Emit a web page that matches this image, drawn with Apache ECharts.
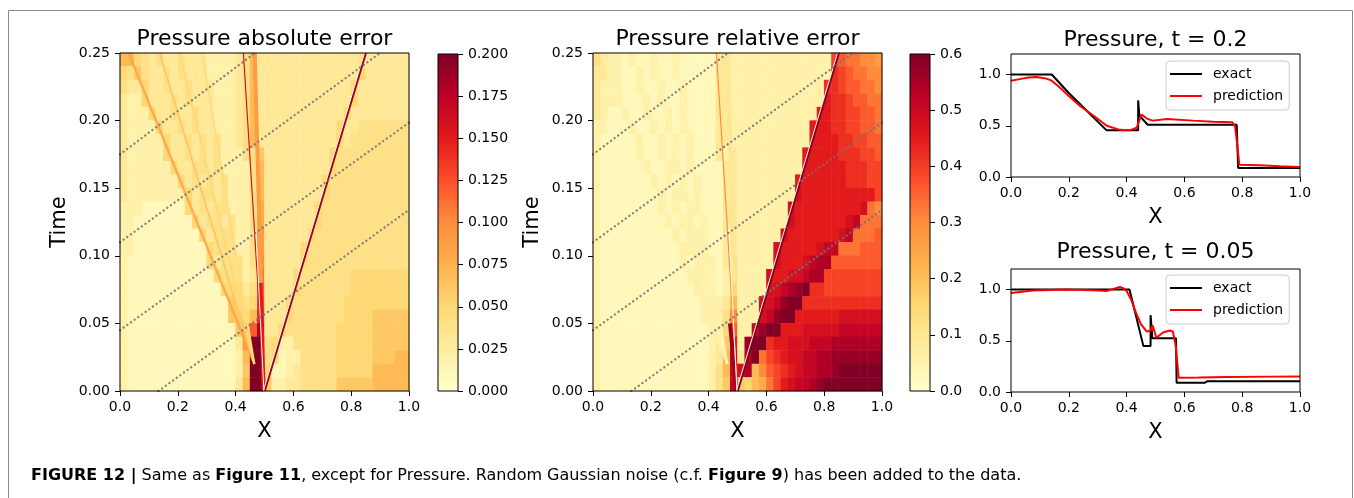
<!DOCTYPE html>
<html><head><meta charset="utf-8">
<script src="https://cdn.jsdelivr.net/npm/echarts@6/dist/echarts.min.js"></script>
<style>html,body{margin:0;padding:0;background:#fff}#c{width:1354px;height:498px}</style>
</head><body><div id="c"></div>
<script>
// ---------------- DATA ----------------
const absMax = 0.2, relMax = 0.6;
const LEVELS = '0123456789abcdefghijk'; // level index 0..20 -> value = idx/20*vmax

// Absolute error field, rows top (t=0.25) to bottom (t=0), 40 columns over X in [0,1]
const absRows = [
"7754343343 3322223473 3333333333 3334333333",
"5464334343 3322223473 3333333333 3335333333",
"4335334334 3332223473 3333333333 3353333333",
"3225333434 3332223473 3333333333 3353333333",
"3222533433 4332223473 3333333333 3533333333",
"3222253343 4332223473 3333333333 5334444444",
"3222225334 3434223473 3333333333 5344444444",
"3222225334 3434222446 3333333335 4444444444",
"3222222533 4434222247 3333333335 4444444444",
"3222222253 4343422247 3333333354 4444444444",
"3222222225 3443422247 3333333354 4444444444",
"2221111115 3434422248 3333333544 4444444444",
"2211111111 5344342248 3333333544 4444444444",
"2211111111 1534442249 3333335444 4444444444",
"2211111111 1154442249 3333354444 4444444444",
"2111111111 115344424a 3333354444 4444444444",
"2111111111 111544423b 3333544444 4455555555",
"2111111111 111155534c 3333544444 4455555555",
"2111111111 111116545d 3335444444 4555555555",
"2111111111 111116657e 3335444444 4555566666",
"2111111111 11111168ci 3354444444 5555566666",
"2111111111 11111139kk 4522444444 5555566666",
"2111111111 11111127kk 4512244444 5555566677",
"2111111111 11111126kk 5112344444 5555577777",
"2111111111 11111137kk 6223344444 6666677777"
];
// Relative error field
const relRows = [
"4322121121 1211111332 2222222222 222dcbbaa9",
"3322112121 1211111332 2222222222 222edcbbaa",
"3222112112 1121111332 2222222222 22eedccbba",
"3222111212 1121111332 2222222222 22feedccbb",
"3211211211 2121111332 2222222222 2ffeeddccb",
"2211121121 2121111332 2222222222 fffeeddccb",
"2111112112 1212111332 2222222222 ffffeeddcc",
"2111112112 1212111323 222222222f ffffeeeddc",
"2111111211 2212111133 222222222f fffffeeedd",
"2111111121 2121211133 22222222ff fffffeeedd",
"2111111112 1221211133 22222222gf fffffffffd",
"2111111112 1212211133 2222222gff fffffffgba",
"2111111111 2122121133 2222222gff fffffghbbb",
"2111111111 1212221133 222222gfff ffffghbbbc",
"2111111111 1122221133 22222gffff fghhbbbccc",
"2111111111 1121222134 22222gfffg hiiccccccc",
"2111111111 1112222124 2222gffggh iidddddddd",
"2111111111 1111222125 2222gghijk eedddddddd",
"2111111111 1111122237 222gghjkke eeeeeeeeee",
"2111111111 111112224a 222ghjkkff ffffgggggg",
"2111111111 111111235c 22hjkkfffg gggghhhhhh",
"2111111111 11111123 6f 2jkkeffggg hhhiiiiiii",
"2111111111 11111123 7h 3ikbdefggh hiijjjjjjj",
"2111111111 11111124 7h gi7acdefgh hiijkkkkkk",
"2111111111 11111124 6h 6578bdfghh ijkkkkkkkk"
];

// Sharp features (rays) in (X, Time)
const rayNames = ['fanHead','fanA','fanB','fanC','bandLow','bandHigh','contact','shock','shockFringe','contactFringe'];
const absRayFrom = [[0.465,0.02],[0.465,0.02],[0.465,0.02],[0.465,0.02],[0.497,0.0],[0.488,0.08],[0.5,0.0],[0.5,0.0],[0.496,0.0],[0.498,0.0]];
const absRayTo   = [[0.03,0.25],[0.137,0.25],[0.206,0.25],[0.284,0.25],[0.486,0.08],[0.466,0.25],[0.427,0.25],[0.85,0.25],[0.846,0.25],[0.47,0.12]];
const absRayValue = [0.085,0.06,0.05,0.045,0.15,0.09,0.16,0.19,0.0,0.0];
const relRayFrom = [[0.465,0.02],[0.465,0.02],[0.465,0.02],[0.465,0.02],[0.497,0.0],[0.488,0.08],[0.5,0.0],[0.5,0.0],[0.496,0.0],[0.498,0.0]];
const relRayTo   = [[0.03,0.25],[0.137,0.25],[0.206,0.25],[0.284,0.25],[0.474,0.05],[0.466,0.25],[0.427,0.25],[0.85,0.25],[0.846,0.25],[0.47,0.12]];
const relRayValue = [0.06,0.05,0.05,0.05,0.56,0.10,0.30,0.60,0.0,0.0];

// Dotted guide lines
const guideFrom = [[0,0.175],[0,0.110],[0,0.045],[0.133,0]];
const guideTo   = [[0.467,0.25],[0.90,0.25],[1.0,0.1985],[1.0,0.134]];

// Line profiles
const exact02 = [[0,1.0],[0.141,1.0],[0.2,0.82],[0.25,0.68],[0.3,0.54],[0.331,0.455],[0.44,0.455],[0.44,0.747],[0.444,0.6],[0.473,0.51],[0.781,0.51],[0.783,0.52],[0.786,0.088],[1.0,0.088]];
const pred02 = [[0,0.94],[0.03,0.955],[0.06,0.97],[0.089,0.975],[0.12,0.962],[0.141,0.94],[0.17,0.87],[0.2,0.79],[0.24,0.69],[0.285,0.6],[0.331,0.5],[0.377,0.46],[0.41,0.455],[0.435,0.48],[0.445,0.56],[0.452,0.61],[0.47,0.57],[0.49,0.55],[0.54,0.565],[0.63,0.55],[0.7,0.54],[0.765,0.535],[0.775,0.5],[0.781,0.36],[0.79,0.12],[0.86,0.114],[0.93,0.105],[1.0,0.097]];
const exact005 = [[0,1.0],[0.41,1.0],[0.458,0.45],[0.483,0.45],[0.483,0.75],[0.489,0.525],[0.571,0.525],[0.573,0.09],[0.67,0.09],[0.68,0.105],[1.0,0.105]];
const pred005 = [[0,0.966],[0.077,0.99],[0.19,1.0],[0.306,0.99],[0.33,0.985],[0.36,1.01],[0.377,1.025],[0.39,1.01],[0.4,0.985],[0.416,0.9],[0.433,0.77],[0.45,0.66],[0.47,0.59],[0.483,0.6],[0.49,0.65],[0.503,0.53],[0.526,0.58],[0.549,0.6],[0.56,0.59],[0.57,0.45],[0.58,0.14],[0.65,0.142],[0.75,0.147],[0.9,0.15],[1.0,0.152]];

// ---------------- STYLE / HELPERS ----------------
const FONT = "'DejaVu Sans', sans-serif";
const YLORRD = ['#ffffcc','#ffeda0','#fed976','#feb24c','#fd8d3c','#fc4e2a','#e31a1c','#bd0026','#800026'];
const rayWidth = {fanHead:2.5, fanA:2, fanB:2, fanC:2, bandLow:4, bandHigh:4, contact:1.2, shock:2.5, shockFringe:1, contactFringe:1};
function hex2rgb(h){return [parseInt(h.slice(1,3),16),parseInt(h.slice(3,5),16),parseInt(h.slice(5,7),16)];}
function cmap(v, vmax){
  const n = YLORRD.length-1;
  const f = Math.max(0, Math.min(1, v/vmax))*n;
  const i = Math.min(n-1, Math.floor(f)), t = f-i;
  const a = hex2rgb(YLORRD[i]), b = hex2rgb(YLORRD[i+1]);
  return 'rgb('+a.map((c,k)=>Math.round(c+(b[k]-c)*t)).join(',')+')';
}
const nx = 40, nt = absRows.length;
function parseGrid(rows, vmax){
  const out = [];
  rows.forEach((row, k) => {
    const s = row.replace(/ /g,'');
    for (let j = 0; j < s.length; j++) out.push([j, nt-1-k, LEVELS.indexOf(s[j])/20*vmax]);
  });
  return out;
}
const absData = parseGrid(absRows, absMax);
const relData = parseGrid(relRows, relMax);
const catX = Array.from({length:nx},(_,i)=>i);
const catY = Array.from({length:nt},(_,i)=>i);

const tickStyle = {show:true, inside:false, length:5, lineStyle:{color:'#000', width:1}};
const labelStyle = (fmt, margin) => ({color:'#000', fontSize:14, fontFamily:FONT, margin:margin, formatter:fmt});
const nameStyle = {color:'#000', fontSize:21, fontFamily:FONT};

function visGrid(left, top, width, height){
  return {left, top, width, height, show:true, borderColor:'#000', borderWidth:1, backgroundColor:'transparent', z:10, containLabel:false};
}
function hidGrid(left, top, width, height){ return {left, top, width, height, show:false, containLabel:false}; }

const grids = [
  visGrid(120,53,289,338), hidGrid(120,53,289,338), visGrid(438,54,20,337),
  visGrid(593,53,289,338), hidGrid(593,53,289,338), visGrid(910,54,20,337),
  visGrid(1011,54,289,123), visGrid(1011,269,289,123)
];

function valX(gi, withName){
  return {type:'value', gridIndex:gi, min:0, max:1, interval:0.2, axisLine:{show:false}, splitLine:{show:false},
    axisTick:tickStyle, axisLabel:labelStyle(v=>v.toFixed(1), 9), z:10,
    name: withName ? 'X' : '', nameLocation:'middle', nameGap:30, nameTextStyle:nameStyle};
}
function catAx(gi, data){ return {type:'category', gridIndex:gi, data:data, show:false}; }

const xAxes = [ valX(0,true), catAx(1,catX), catAx(2,['']), valX(3,true), catAx(4,catX), catAx(5,['']), valX(6,true), valX(7,true) ];
function timeAxis(gi){
  return {type:'value', gridIndex:gi, min:0, max:0.25, interval:0.05, axisLine:{show:false}, splitLine:{show:false},
    axisTick:tickStyle, axisLabel:labelStyle(v=>v.toFixed(2), 10), z:10,
    name:'Time', nameLocation:'middle', nameGap:50, nameTextStyle:nameStyle};
}
function cbarAxis(gi, vmax, interval, digits){
  return {type:'value', gridIndex:gi, position:'right', min:0, max:vmax, interval:interval, axisLine:{show:false}, splitLine:{show:false},
    axisTick:tickStyle, axisLabel:labelStyle(v=>v.toFixed(digits), 10), z:10};
}
function lineYAxis(gi){
  return {type:'value', gridIndex:gi, min:0, max:1.2, axisLine:{show:false}, splitLine:{show:false},
    axisTick:Object.assign({customValues:[0,0.5,1.0]}, tickStyle),
    axisLabel:Object.assign({customValues:[0,0.5,1.0]}, labelStyle(v=>v.toFixed(1), 10)), z:10};
}
const yAxes = [ timeAxis(0), catAx(1,catY), cbarAxis(2,absMax,0.025,3), timeAxis(3), catAx(4,catY), cbarAxis(5,relMax,0.1,1), lineYAxis(6), lineYAxis(7) ];

function gradient(){
  return new echarts.graphic.LinearGradient(0,1,0,0, YLORRD.map((c,i)=>({offset:i/(YLORRD.length-1), color:c})));
}
function rays(from, to, vals, vmax, axisIdx){
  return rayNames.map((n,i)=>({type:'line', name:'_'+n+axisIdx, xAxisIndex:axisIdx, yAxisIndex:axisIdx,
    data:[from[i], to[i]], symbol:'none', silent:true, z:3, clip:true,
    lineStyle:{color: vals[i]===0 ? '#fffbe2' : cmap(vals[i], vmax), width:rayWidth[n], opacity: n==='fanHead'?0.85:1}}));
}
function guides(axisIdx){
  return guideFrom.map((p,i)=>({type:'line', name:'_g'+i+axisIdx, xAxisIndex:axisIdx, yAxisIndex:axisIdx,
    data:[p, guideTo[i]], symbol:'none', silent:true, z:4,
    lineStyle:{color:'rgba(115,115,115,0.9)', width:2.3, type:[0.1,4.4], cap:'round'}}));
}

const series = [
  {type:'heatmap', xAxisIndex:1, yAxisIndex:1, data:absData, z:1, silent:true, progressive:0},
  {type:'heatmap', xAxisIndex:4, yAxisIndex:4, data:relData, z:1, silent:true, progressive:0},
  {type:'bar', xAxisIndex:2, yAxisIndex:2, data:[absMax], barWidth:'100%', silent:true, itemStyle:{color:gradient()}},
  {type:'bar', xAxisIndex:5, yAxisIndex:5, data:[relMax], barWidth:'100%', silent:true, itemStyle:{color:gradient()}},
  ...rays(absRayFrom, absRayTo, absRayValue, absMax, 0), ...guides(0),
  ...rays(relRayFrom, relRayTo, relRayValue, relMax, 3), ...guides(3),
  {type:'line', name:'exact', xAxisIndex:6, yAxisIndex:6, data:exact02, symbol:'none', color:'#000', lineStyle:{color:'#000', width:2}, z:5},
  {type:'line', name:'prediction', xAxisIndex:6, yAxisIndex:6, data:pred02, symbol:'none', color:'#ff0000', lineStyle:{color:'#ff0000', width:2}, z:6},
  {type:'line', name:'exact', xAxisIndex:7, yAxisIndex:7, data:exact005, symbol:'none', color:'#000', lineStyle:{color:'#000', width:2}, z:5},
  {type:'line', name:'prediction', xAxisIndex:7, yAxisIndex:7, data:pred005, symbol:'none', color:'#ff0000', lineStyle:{color:'#ff0000', width:2}, z:6}
];

function legendAt(top){
  return {left:1166, top:top, orient:'vertical', icon:'rect', itemWidth:32, itemHeight:2, itemGap:8,
    data:['exact','prediction'], backgroundColor:'rgba(255,255,255,0.8)', borderColor:'#cccccc', borderWidth:1, borderRadius:4,
    padding:[6,6,7,4], textStyle:{color:'#000', fontSize:14, fontFamily:FONT, padding:[0,0,0,6]}, selectedMode:false, z:20};
}

function titleText(text, x, y){
  return {type:'text', x:x, y:y, silent:true, style:{text:text, fill:'#000', font:'22px '+FONT, align:'center', verticalAlign:'middle'}};
}

const chart = echarts.init(document.getElementById('c'), null, {renderer:'canvas'});
chart.setOption({
  animation:false,
  backgroundColor:'#fff',
  grid:grids, xAxis:xAxes, yAxis:yAxes, series:series,
  visualMap:[
    {type:'continuous', min:0, max:absMax, seriesIndex:0, show:false, inRange:{color:YLORRD}},
    {type:'continuous', min:0, max:relMax, seriesIndex:1, show:false, inRange:{color:YLORRD}}
  ],
  legend:[legendAt(61), legendAt(275)],
  graphic:[
    {type:'rect', shape:{x:8.5, y:10.5, width:1344, height:530}, silent:true, z:-1, style:{fill:'none', stroke:'#8a8a8a', lineWidth:1}},
    titleText('Pressure absolute error', 264.5, 39),
    titleText('Pressure relative error', 737.5, 39),
    titleText('Pressure, t = 0.2', 1155.5, 40),
    titleText('Pressure, t = 0.05', 1155.5, 252),
    {type:'text', x:31, y:476, silent:true, style:{
      text:'{b|FIGURE 12 |}{n| Same as }{b|Figure 11}{n|, except for Pressure. Random Gaussian noise (c.f. }{b|Figure 9}{n|) has been added to the data.}',
      verticalAlign:'middle', fill:'#000',
      rich:{b:{fontWeight:'bold', fontSize:16, fontFamily:FONT, fill:'#000'}, n:{fontSize:16, fontFamily:FONT, fill:'#000'}}}}
  ]
});
</script></body></html>
